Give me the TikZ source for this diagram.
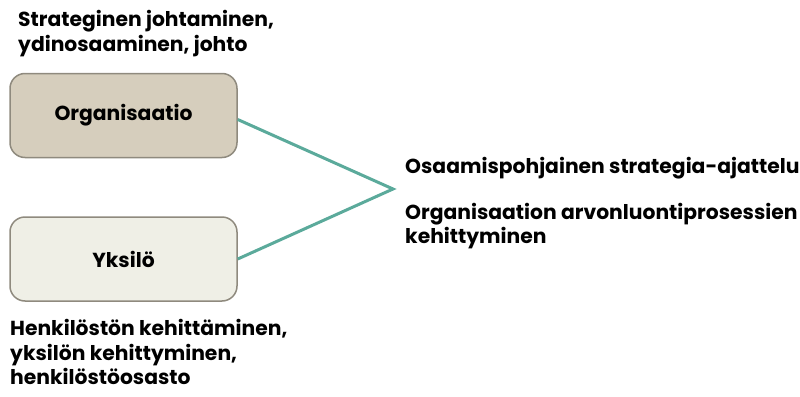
\documentclass[tikz,border=0pt]{standalone}
\usepackage{fontspec}
\setmainfont{Poppins}
\definecolor{boxline}{HTML}{8F8A7E}
\definecolor{orgfill}{HTML}{D6CEBD}
\definecolor{indfill}{HTML}{EFEFE6}
\definecolor{linkteal}{HTML}{5BAA9B}
\begin{document}
\begin{tikzpicture}[x=1pt,y=-1pt,
  every node/.style={font=\fontsize{20.3}{24.5}\selectfont\bfseries, text=black},
  txt/.style={anchor=north west, align=left, inner sep=0pt},
  box/.style={draw=boxline, line width=1.5pt, rounded corners=15pt,
    minimum width=227pt, minimum height=84pt, inner sep=0pt},
  link/.style={draw=linkteal, line width=3pt}]
\useasboundingbox (0,0) rectangle (800,396);

% the two levels
\node[box, fill=orgfill] (org) at (123.5,115.5) {Organisaatio};
\node[box, fill=indfill] (ind) at (123.5,259) {Yksilö};

% descriptions above and below the boxes
\node[txt] (orgtxt) at (18,10.5) {Strateginen johtaminen,\\ydinosaaminen, johto};
\node[txt] (indtxt) at (10,319.5) {Henkilöstön kehittäminen,\\yksilön kehittyminen,\\henkilöstöosasto};

% the two levels meet in one point
\coordinate (meet) at (393,189);
\draw[link] ([yshift=-4pt]org.east) -- (meet) -- (ind.east);

% outcomes
\node[txt] (out1) at (405,157.5) {Osaamispohjainen strategia-ajattelu};
\node[txt] (out2) at (405,203) {Organisaation arvonluontiprosessien\\kehittyminen};
\end{tikzpicture}
\end{document}
